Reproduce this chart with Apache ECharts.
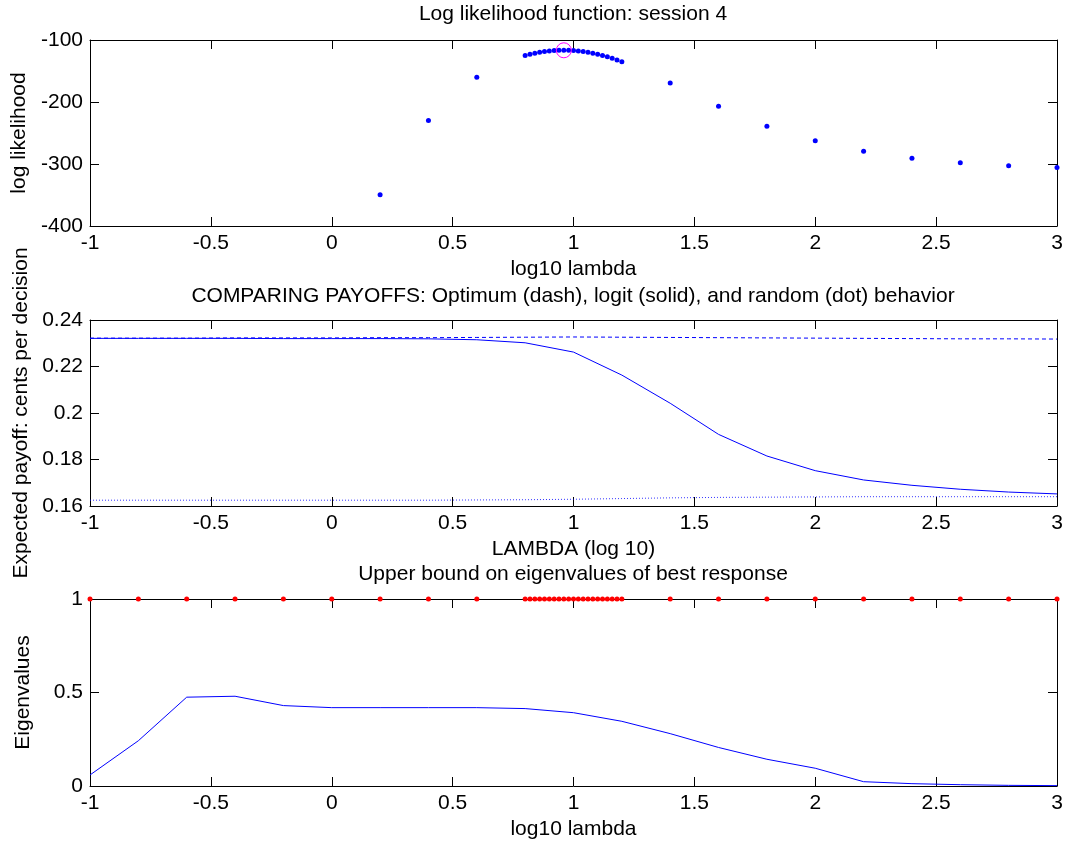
<!DOCTYPE html>
<html>
<head>
<meta charset="utf-8">
<script src="https://cdn.jsdelivr.net/npm/echarts@6/dist/echarts.min.js"></script>
<style>
  html, body { margin: 0; padding: 0; background: #fff; }
  #chart { width: 1067px; height: 846px; }
</style>
</head>
<body>
<div id="chart"></div>
<script>
// log likelihood (top panel)
const llLambda = [0.2, 0.4, 0.6,
  0.8, 0.82, 0.84, 0.86, 0.88, 0.9, 0.92, 0.94, 0.96, 0.98, 1.0,
  1.02, 1.04, 1.06, 1.08, 1.1, 1.12, 1.14, 1.16, 1.18, 1.2,
  1.4, 1.6, 1.8, 2.0, 2.2, 2.4, 2.6, 2.8, 3.0];
const llValues = [-349.6, -229.9, -160.1,
  -124.8, -122.9, -121.2, -119.8, -118.7, -117.8, -117.1, -116.7, -116.6, -116.7, -117.1,
  -117.8, -118.7, -119.8, -121.2, -122.9, -124.8, -127.0, -129.4, -132.1, -135.0,
  -169.2, -206.8, -239.0, -262.6, -279.3, -290.6, -298.0, -303.0, -305.6];
const llBest = [0.96, -116.6];

// payoffs (middle panel)
const lambdaCoarse = [-1, -0.8, -0.6, -0.4, -0.2, 0, 0.2, 0.4, 0.6, 0.8, 1.0,
  1.2, 1.4, 1.6, 1.8, 2.0, 2.2, 2.4, 2.6, 2.8, 3.0];
const optimumPay = [0.2322, 0.2322, 0.2322, 0.2323, 0.2323, 0.2323, 0.2324, 0.2324, 0.2325, 0.2326, 0.2327,
  0.2326, 0.2325, 0.2324, 0.2323, 0.2322, 0.2321, 0.2320, 0.2319, 0.2319, 0.2318];
const logitPay = [0.2321, 0.2321, 0.2321, 0.2321, 0.2320, 0.2320, 0.2320, 0.2319, 0.2315, 0.2302, 0.2262,
  0.2163, 0.2042, 0.1908, 0.1815, 0.1752, 0.1712, 0.1689, 0.1672, 0.1660, 0.1652];
const randomPay = [0.1625, 0.1625, 0.1625, 0.1625, 0.1625, 0.1625, 0.1625, 0.1625, 0.1626, 0.1627, 0.1629,
  0.1632, 0.1635, 0.1637, 0.1638, 0.1639, 0.1640, 0.1640, 0.1640, 0.1640, 0.1640];

// eigenvalues (bottom panel)
const eigValues = [0.059, 0.242, 0.475, 0.48, 0.43, 0.419, 0.419, 0.419, 0.419, 0.414, 0.392,
  0.346, 0.28, 0.206, 0.143, 0.095, 0.023, 0.0125, 0.007, 0.0035, 0.002];
const boundLambda = [-1, -0.8, -0.6, -0.4, -0.2, 0, 0.2, 0.4, 0.6,
  0.8, 0.82, 0.84, 0.86, 0.88, 0.9, 0.92, 0.94, 0.96, 0.98, 1.0,
  1.02, 1.04, 1.06, 1.08, 1.1, 1.12, 1.14, 1.16, 1.18, 1.2,
  1.4, 1.6, 1.8, 2.0, 2.2, 2.4, 2.6, 2.8, 3.0];
const boundValue = 1;

const FONT = "Liberation Sans";
const FS = 21;
const BLUE = "#0000ff";

const zip = (xs, ys) => xs.map((x, i) => [x, ys[i]]);

const grids = [
  { left: 90, right: 10, top: 40, height: 186 },
  { left: 90, right: 10, top: 320, height: 186 },
  { left: 90, right: 10, top: 599, height: 187 },
];

const lineStyle = { color: "#000", width: 1 };
const tick = { inside: true, length: 9, lineStyle: { color: "#000" } };
const label = { color: "#000", fontFamily: FONT, fontSize: FS };

function xPair(gi, name) {
  return [
    { type: "value", gridIndex: gi, min: -1, max: 3, interval: 0.5, position: "bottom",
      axisLine: { onZero: false, lineStyle }, axisTick: tick, splitLine: { show: false },
      axisLabel: Object.assign({ margin: 7 }, label),
      name, nameLocation: "middle", nameGap: 33,
      nameTextStyle: { color: "#000", fontFamily: FONT, fontSize: FS } },
    { type: "value", gridIndex: gi, min: -1, max: 3, interval: 0.5, position: "top",
      axisLine: { onZero: false, lineStyle }, axisTick: tick, splitLine: { show: false },
      axisLabel: { show: false } },
  ];
}

function yPair(gi, min, max, interval, name) {
  return [
    { type: "value", gridIndex: gi, min, max, interval, position: "left",
      axisLine: { show: true, onZero: false, lineStyle }, axisTick: Object.assign({ show: true }, tick),
      splitLine: { show: false },
      axisLabel: Object.assign({ margin: 7 }, label),
      name, nameLocation: "middle", nameGap: 56,
      nameTextStyle: { color: "#000", fontFamily: FONT, fontSize: FS } },
    { type: "value", gridIndex: gi, min, max, interval, position: "right",
      axisLine: { show: true, onZero: false, lineStyle }, axisTick: Object.assign({ show: true }, tick),
      splitLine: { show: false }, axisLabel: { show: false } },
  ];
}

const titleStyle = { color: "#000", fontFamily: FONT, fontSize: FS, fontWeight: "normal" };

const option = {
  backgroundColor: "#fff",
  animation: false,
  title: [
    { text: "Log likelihood function: session 4", left: 573, top: 4, textAlign: "center", textStyle: titleStyle, padding: 0 },
    { text: "COMPARING PAYOFFS: Optimum (dash), logit (solid), and random (dot) behavior", left: 573, top: 286, textAlign: "center", textStyle: titleStyle, padding: 0 },
    { text: "Upper bound on eigenvalues of best response", left: 573, top: 564, textAlign: "center", textStyle: titleStyle, padding: 0 },
  ],
  grid: grids,
  xAxis: [].concat(xPair(0, "log10 lambda"), xPair(1, "LAMBDA (log 10)"), xPair(2, "log10 lambda")),
  yAxis: [].concat(
    yPair(0, -400, -100, 100, "log likelihood"),
    yPair(1, 0.16, 0.24, 0.02, "Expected payoff: cents per decision"),
    yPair(2, 0, 1, 0.5, "Eigenvalues")
  ),
  series: [
    { type: "scatter", xAxisIndex: 0, yAxisIndex: 0, data: zip(llLambda, llValues),
      symbolSize: 5, itemStyle: { color: BLUE, opacity: 1 }, clip: false },
    { type: "scatter", xAxisIndex: 0, yAxisIndex: 0, data: [llBest], symbolSize: 15,
      itemStyle: { color: "rgba(0,0,0,0)", borderColor: "#ff00ff", borderWidth: 1, opacity: 1 }, z: 5 },

    { type: "line", xAxisIndex: 2, yAxisIndex: 2, data: zip(lambdaCoarse, optimumPay), showSymbol: false,
      lineStyle: { color: BLUE, width: 1, type: [4, 3] } },
    { type: "line", xAxisIndex: 2, yAxisIndex: 2, data: zip(lambdaCoarse, logitPay), showSymbol: false,
      lineStyle: { color: BLUE, width: 1 } },
    { type: "line", xAxisIndex: 2, yAxisIndex: 2, data: zip(lambdaCoarse, randomPay), showSymbol: false,
      lineStyle: { color: BLUE, width: 1, type: [1, 2], opacity: 0.8 } },

    { type: "line", xAxisIndex: 4, yAxisIndex: 4, data: zip(lambdaCoarse, eigValues), showSymbol: false,
      lineStyle: { color: BLUE, width: 1 } },
    { type: "scatter", xAxisIndex: 4, yAxisIndex: 4, data: boundLambda.map(x => [x, boundValue]),
      symbolSize: 5, itemStyle: { color: "#ff0000", opacity: 1 }, clip: false, z: 5 },
  ],
};

const chart = echarts.init(document.getElementById("chart"), null, { renderer: "canvas" });
chart.setOption(option);
</script>
</body>
</html>
